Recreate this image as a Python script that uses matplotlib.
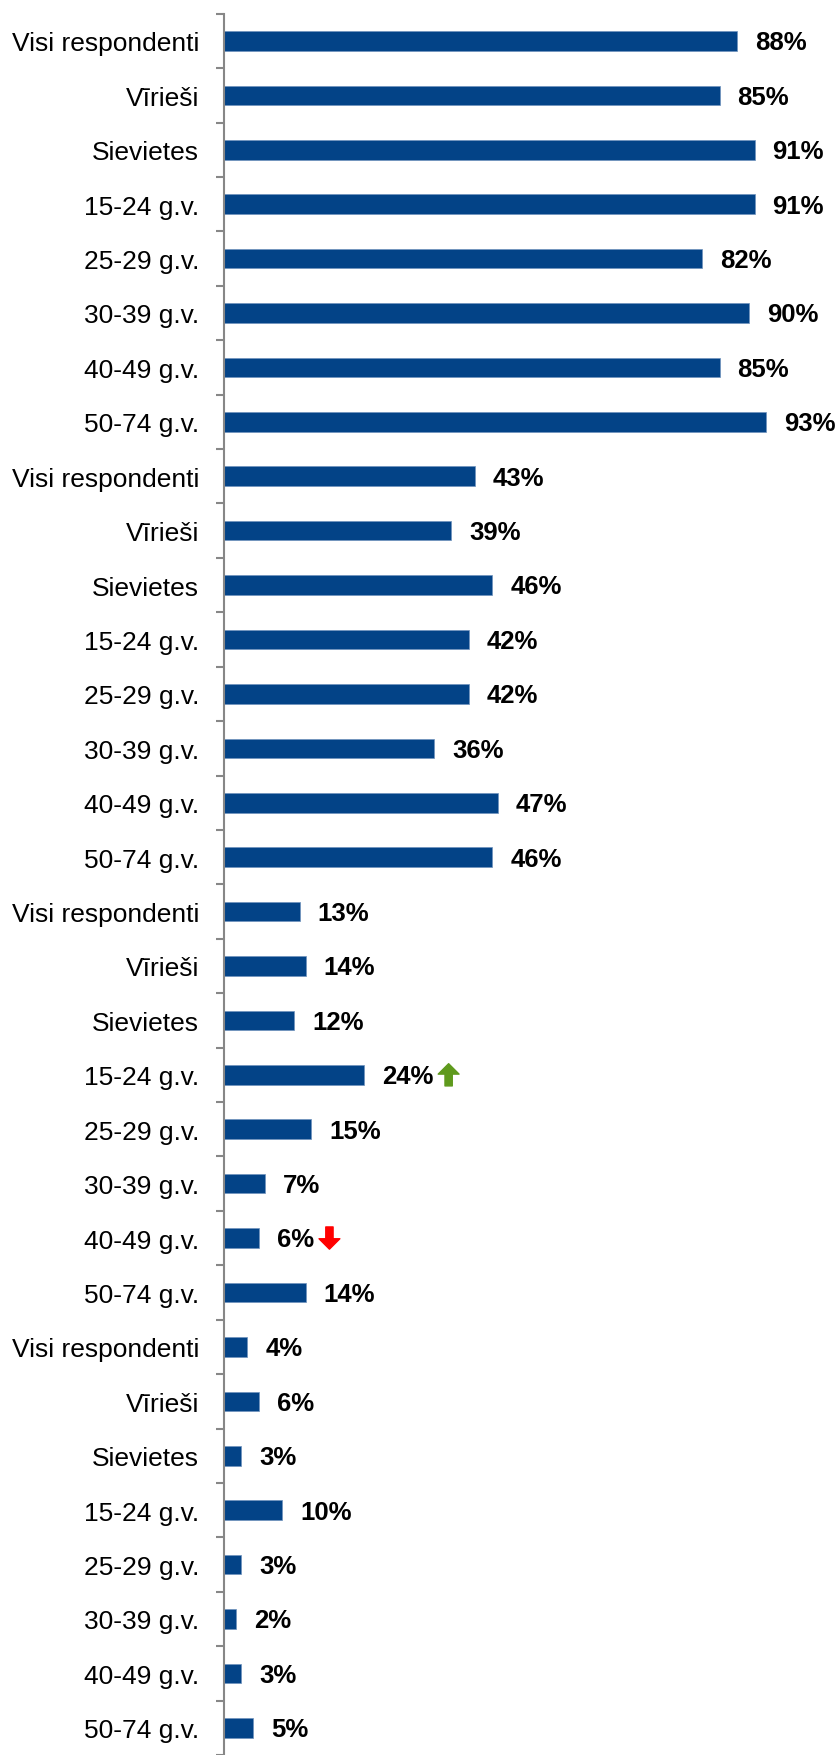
import matplotlib
matplotlib.use("Agg")
import matplotlib.pyplot as plt
from matplotlib.text import OffsetFrom

plt.rcParams["font.family"] = ["Liberation Sans", "DejaVu Sans"]

groups = ["Visi respondenti", "Vīrieši", "Sievietes", "15-24 g.v.",
          "25-29 g.v.", "30-39 g.v.", "40-49 g.v.", "50-74 g.v."]

block1 = [88, 85, 91, 91, 82, 90, 85, 93]
block2 = [43, 39, 46, 42, 42, 36, 47, 46]
block3 = [13, 14, 12, 24, 15, 7, 6, 14]
block4 = [4, 6, 3, 10, 3, 2, 3, 5]

# significant changes: (row index, direction)
changes = [(19, "up"), (22, "down")]

labels = groups * 4
values = block1 + block2 + block3 + block4

BAR_COLOR = "#034387"
AXIS_GRAY = "#878787"

W, H = 839, 1756
fig = plt.figure(figsize=(W / 100, H / 100), dpi=100)

x0_px, x_scale = 224, 5.83          # px of 0 %, px per %
top_px, row_px = 14.7, 54.68
ax = fig.add_axes([x0_px / W, 0, 100 * x_scale / W, (H - top_px) / H])

y = list(range(len(values)))
ax.barh(y, values, height=0.36, color=BAR_COLOR, edgecolor="#6f93bd", linewidth=0.5)

ax.set_xlim(0, 100)
ax.set_ylim(-0.5 + (H - top_px) / row_px, -0.5)

for s in ["top", "right", "bottom"]:
    ax.spines[s].set_visible(False)
ax.spines["left"].set_color(AXIS_GRAY)
ax.spines["left"].set_linewidth(1.5)
ax.set_xticks([])

ax.set_yticks(y)
ax.set_yticklabels(labels, fontsize=19)
ax.tick_params(axis="y", which="major", length=0, pad=18)
ax.set_yticks([i - 0.5 for i in range(len(values) + 1)], minor=True)
ax.tick_params(axis="y", which="minor", length=6, width=1.5, color=AXIS_GRAY, direction="out")

texts = []
for yi, v in zip(y, values):
    t = ax.annotate(f"{v}%", xy=(v, yi), xytext=(13, -1), textcoords="offset points",
                    ha="left", va="center", fontsize=18.5, fontweight="bold",
                    color="black", annotation_clip=False)
    texts.append(t)

for row, direction in changes:
    ref = OffsetFrom(texts[row], (1.0, 0.5))
    if direction == "up":
        head, tail, col = (11, 9), (11, -7), "#5f9a1d"
    else:
        head, tail, col = (11, -7), (11, 9), "#ff0000"
    ax.annotate("", xy=head, xycoords=ref, xytext=tail, textcoords=ref,
                arrowprops=dict(arrowstyle="simple,head_length=0.5,head_width=1.0,tail_width=0.35",
                                color=col, mutation_scale=15, shrinkA=0, shrinkB=0),
                annotation_clip=False)

fig.savefig("out.png", dpi=100)
